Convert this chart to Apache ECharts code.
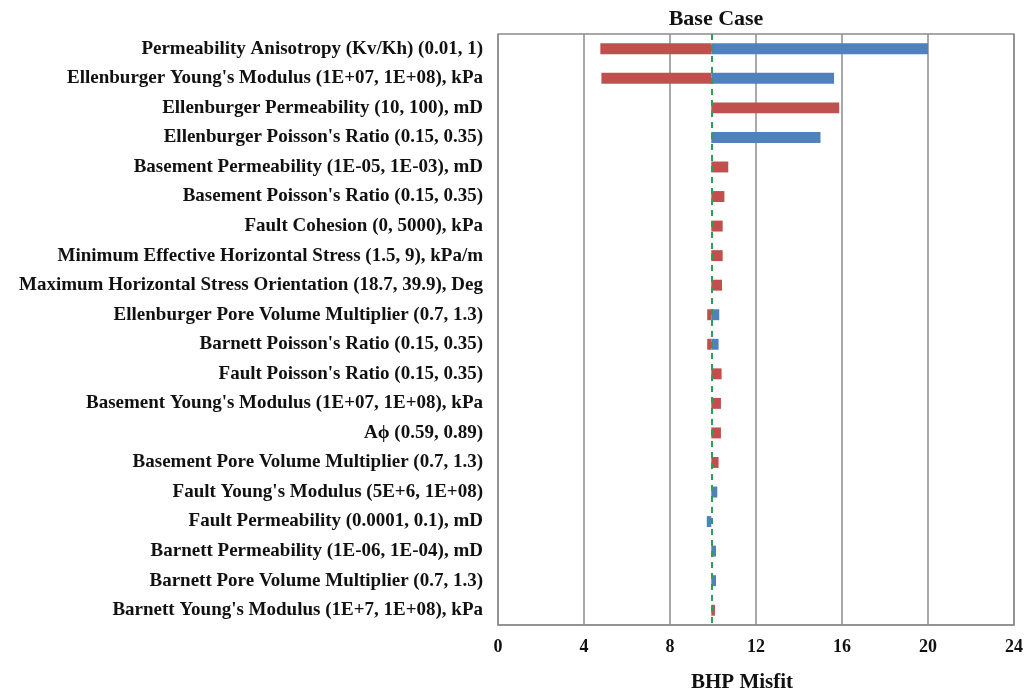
<!DOCTYPE html>
<html>
<head>
<meta charset="utf-8">
<script src="https://cdn.jsdelivr.net/npm/echarts@6/dist/echarts.min.js"></script>
<style>
  html, body { margin: 0; padding: 0; background: #fff; }
  #chart { width: 1028px; height: 694px; }
</style>
</head>
<body>
<div id="chart"></div>
<script>
// Sensitivity of BHP misfit to each uncertain parameter (low / high end of range)
const categories = [
  "Permeability Anisotropy (Kv/Kh) (0.01, 1)",
  "Ellenburger Young's Modulus (1E+07, 1E+08), kPa",
  "Ellenburger Permeability (10, 100), mD",
  "Ellenburger Poisson's Ratio (0.15, 0.35)",
  "Basement Permeability (1E-05, 1E-03), mD",
  "Basement Poisson's Ratio (0.15, 0.35)",
  "Fault Cohesion (0, 5000), kPa",
  "Minimum Effective Horizontal Stress (1.5, 9), kPa/m",
  "Maximum Horizontal Stress Orientation (18.7, 39.9), Deg",
  "Ellenburger Pore Volume Multiplier (0.7, 1.3)",
  "Barnett Poisson's Ratio (0.15, 0.35)",
  "Fault Poisson's Ratio (0.15, 0.35)",
  "Basement Young's Modulus (1E+07, 1E+08), kPa",
  "A\u03d5 (0.59, 0.89)",
  "Basement Pore Volume Multiplier (0.7, 1.3)",
  "Fault Young's Modulus (5E+6, 1E+08)",
  "Fault Permeability (0.0001, 0.1), mD",
  "Barnett Permeability (1E-06, 1E-04), mD",
  "Barnett Pore Volume Multiplier (0.7, 1.3)",
  "Barnett Young's Modulus (1E+7, 1E+08), kPa"
];

const baseCase = 9.92;

// BHP misfit at the low end of each parameter range (red)
const lowValues = [
  4.76, 4.81, 15.87, 9.92, 10.71, 10.53, 10.45, 10.45, 10.42, 9.73,
  9.73, 10.40, 10.37, 10.37, 10.26, 9.92, 9.92, 9.92, 9.92, 10.09
];

// BHP misfit at the high end of each parameter range (blue)
const highValues = [
  20.0, 15.63, 9.92, 15.0, 9.92, 9.92, 9.92, 9.92, 9.92, 10.29,
  10.26, 9.92, 9.92, 9.92, 9.92, 10.20, 9.71, 10.14, 10.14, 9.92
];

const xTicks = { min: 0, max: 24, interval: 4 };

const chart = echarts.init(document.getElementById('chart'));

function barFrom(base) {
  return function (params, api) {
    const cat = api.value(0);
    const v = api.value(1);
    const p0 = api.coord([base, cat]);
    const p1 = api.coord([v, cat]);
    const h = api.size([0, 1])[1] * 0.37;
    const x = Math.min(p0[0], p1[0]);
    const w = Math.abs(p1[0] - p0[0]);
    return {
      type: 'rect',
      shape: { x: x, y: p0[1] - h / 2, width: w, height: h },
      style: { fill: api.visual('color') }
    };
  };
}

const font = '"Liberation Serif", "Times New Roman", serif';

chart.setOption({
  animation: false,
  backgroundColor: '#ffffff',
  grid: {
    left: 498, right: 14, top: 34, bottom: 69,
    show: true, borderColor: '#8c8c8c', borderWidth: 1.5
  },
  xAxis: {
    type: 'value',
    min: xTicks.min, max: xTicks.max, interval: xTicks.interval,
    axisLine: { show: true, lineStyle: { color: '#8c8c8c', width: 1.5 } },
    axisTick: { show: false },
    splitLine: { show: true, lineStyle: { color: '#8c8c8c', width: 1.5 } },
    axisLabel: {
      margin: 13, color: '#111', fontFamily: font, fontWeight: 'bold', fontSize: 18
    }
  },
  yAxis: {
    type: 'category',
    data: categories,
    inverse: true,
    axisLine: { show: false },
    axisTick: { show: false },
    splitLine: { show: false },
    axisLabel: {
      margin: 15, color: '#111', fontFamily: font, fontWeight: 'bold', fontSize: 19,
      interval: 0
    }
  },
  graphic: [
    {
      type: 'text', x: 716, y: 19,
      style: {
        text: 'Base Case', align: 'center', verticalAlign: 'middle',
        font: 'bold 22px ' + font, fill: '#111'
      }
    },
    {
      type: 'text', x: 742, y: 683,
      style: {
        text: 'BHP Misfit', align: 'center', verticalAlign: 'middle',
        font: 'bold 21px ' + font, fill: '#111'
      }
    }
  ],
  series: [
    {
      name: 'Low',
      type: 'custom',
      renderItem: barFrom(baseCase),
      itemStyle: { color: '#c0504d' },
      encode: { x: 1, y: 0 },
      data: lowValues.map((v, i) => [i, v]),
      z: 2
    },
    {
      name: 'High',
      type: 'custom',
      renderItem: barFrom(baseCase),
      itemStyle: { color: '#4f81bd' },
      encode: { x: 1, y: 0 },
      data: highValues.map((v, i) => [i, v]),
      z: 2,
      markLine: {
        silent: true,
        symbol: 'none',
        label: { show: false },
        lineStyle: { color: '#2ca05a', type: [6, 5], width: 2 },
        data: [{ xAxis: baseCase }],
        z: 5
      }
    }
  ]
});
</script>
</body>
</html>
